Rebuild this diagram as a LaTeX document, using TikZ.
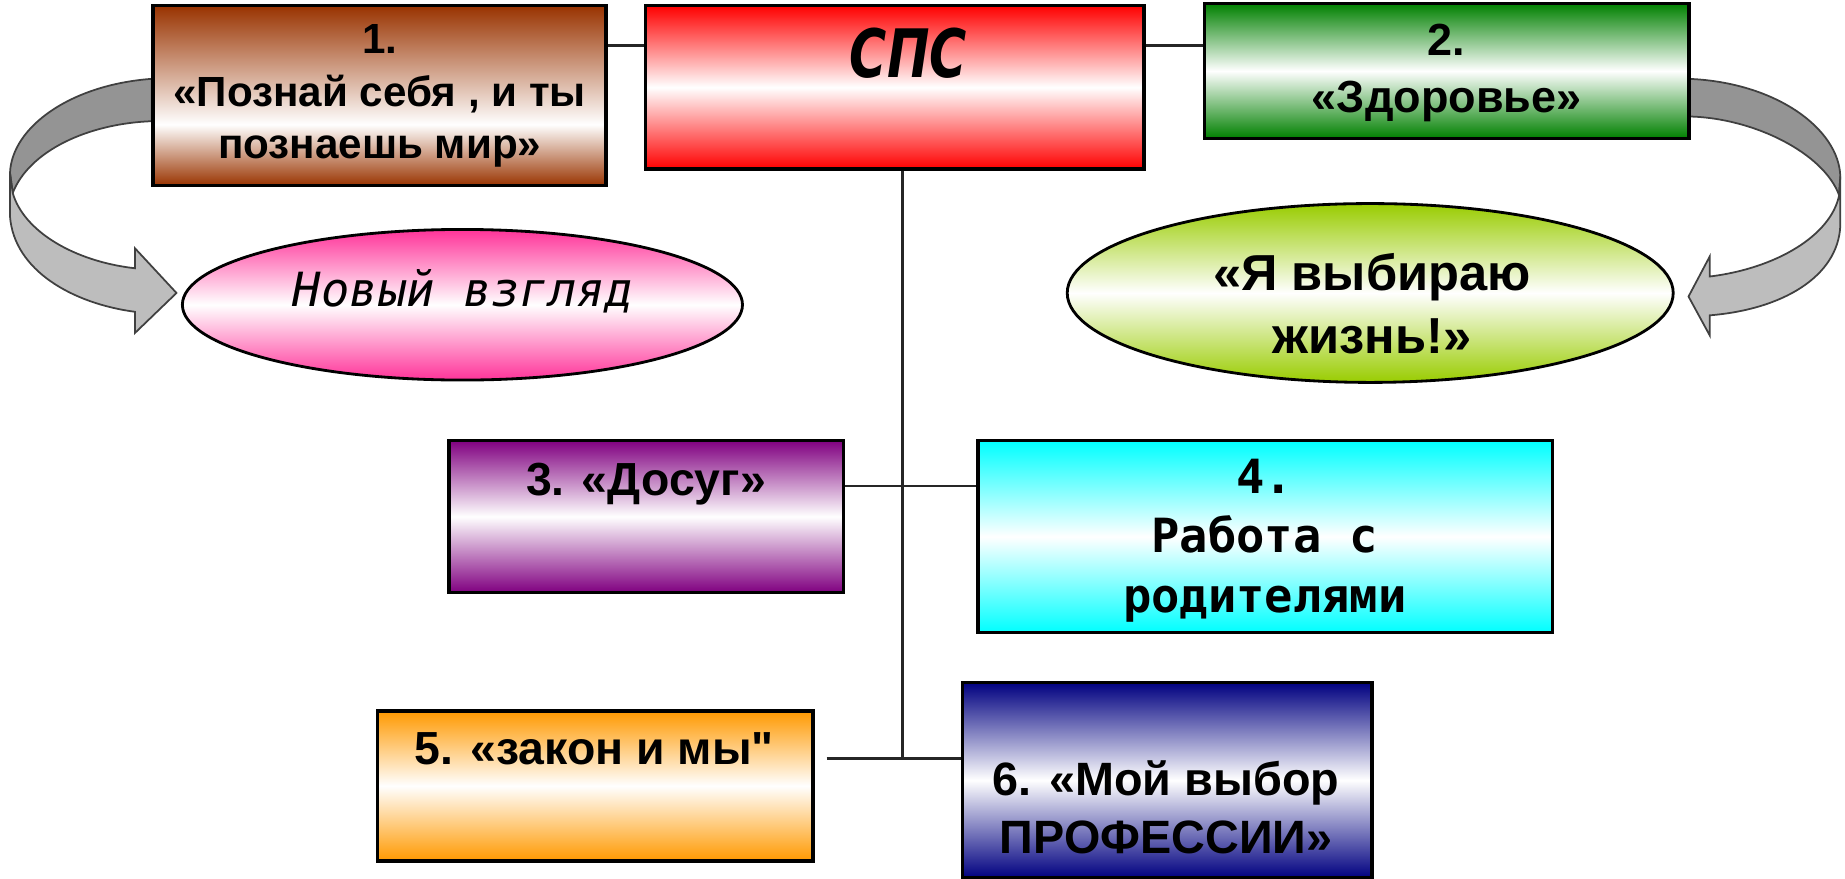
\documentclass[tikz,border=0pt]{standalone}
\usepackage{fontspec}
\setmainfont{Liberation Sans}
\newfontfamily\lawfont{Liberation Sans}
\newfontfamily\monofont{DejaVu Sans Mono}
\newfontfamily\spsfont[FakeStretch=0.76]{DejaVu Sans}
\usetikzlibrary{shapes.geometric}
\definecolor{brown one}{RGB}{153,51,0}
\definecolor{sps red}{RGB}{255,0,0}
\definecolor{health green}{RGB}{0,128,0}
\definecolor{leisure purple}{RGB}{128,0,128}
\definecolor{parent cyan}{RGB}{0,255,255}
\definecolor{law orange}{RGB}{255,153,0}
\definecolor{job navy}{RGB}{0,0,128}
\definecolor{view pink}{RGB}{255,51,153}
\definecolor{life lime}{RGB}{153,204,0}
\pgfdeclareverticalshading{brownglow}{100bp}{color(0bp)=(brown one); color(25bp)=(brown one); color(42bp)=(white); color(75bp)=(brown one); color(100bp)=(brown one)}
\newcommand{\px}{0.011767cm}

\tikzset{
  panel/.style={draw=black, line width=1pt, inner sep=0pt, top color=#1, bottom color=#1, middle color=white},
  oval/.style={ellipse, draw=black, line width=0.8pt, inner sep=0pt, top color=#1, bottom color=#1, middle color=white},
  caption/.style={align=center, inner sep=0pt},
  link/.style={draw=black!85, line width=0.8pt},
  twist back/.style={fill=black!42, draw=black!75, line width=0.5pt},
  twist front/.style={fill=black!26, draw=black!75, line width=0.5pt}
}

\begin{document}
\begin{tikzpicture}[x=\px, y=-\px]
	\useasboundingbox (0,0) rectangle (1568,747);
	% curved arrows
	\draw[twist back] (129,67) .. controls (60,72) and (10,108) .. (8.5,147)
		-- (10.8,164) .. controls (25,128) and (75,105) .. (129,103) -- cycle;
	\draw[twist front] (8.5,147) -- (8.5,184) .. controls (12,230) and (62,258) .. (114.7,265)
		-- (114.7,283) -- (150,249) -- (114.7,211) -- (114.7,228)
		.. controls (62,222) and (20,196) .. (10.8,164) -- cycle;
	\draw[twist back] (1435,67) .. controls (1510,70) and (1563,110) .. (1564,150)
		-- (1563,166) .. controls (1550,130) and (1490,100) .. (1435,99) -- cycle;
	\draw[twist front] (1564,150) -- (1564,192) .. controls (1562,235) and (1515,263) .. (1453,268)
		-- (1453,285) -- (1435,252) -- (1453,218) -- (1453,235)
		.. controls (1510,228) and (1556,200) .. (1563,166) -- cycle;
	% boxes
	\node[panel=brown one, shading=brownglow, minimum width=385*\px, minimum height=153*\px] (b1) at (322.7,81.3) {};
	\node[panel=sps red, minimum width=423.6*\px, minimum height=138.8*\px] (sps) at (760.5,74.2) {};
	\node[panel=health green, minimum width=412*\px, minimum height=114.6*\px] (b2) at (1229.5,60.3) {};
	\node[oval=view pink, minimum width=476*\px, minimum height=128*\px] (e1) at (393,259) {};
	\node[oval=life lime, minimum width=515*\px, minimum height=152*\px] (e2) at (1164.5,249) {};
	\node[panel=leisure purple, minimum width=335*\px, minimum height=129*\px] (b3) at (549.2,439) {};
	\node[panel=parent cyan, minimum width=488.5*\px, minimum height=163.2*\px] (b4) at (1075.2,456.1) {};
	\node[panel=law orange, minimum width=370*\px, minimum height=127.7*\px] (b5) at (506,667.9) {};
	\node[panel=job navy, minimum width=348*\px, minimum height=166*\px] (b6) at (992,663) {};
	% connectors
	\coordinate (j3) at (767,413);
	\coordinate (j5) at (767,644.5);
	\coordinate (e5) at (702.6,644.5);
	\draw[link] ([yshift=-35.7*\px]b1.north east) -- ([yshift=-35.7*\px]sps.north west);
	\draw[link] ([yshift=-35.7*\px]sps.north east) coordinate (r2) -- (r2 -| b2.west);
	\draw[link] (sps.south -| j3) -- (j5);
	\draw[link] (b3.east |- j3) -- (b4.west |- j3);
	\draw[link] (e5) -- (b6.west |- e5);
	% texts
	\node[caption, font=\fontsize{12}{15}\selectfont\bfseries] (t1) at (322.7,81.5) {1.\\«Познай себя , и ты\\познаешь мир»};
	\node[caption, font=\spsfont\fontsize{19}{22}\selectfont\bfseries\itshape] (t0) at (772,44.8) {СПС};
	\node[caption, font=\fontsize{12.8}{16.4}\selectfont\bfseries] (t2) at (1229.5,62) {2.\\«Здоровье»};
	\node[caption, font=\monofont\fontsize{13.4}{16}\selectfont\itshape, anchor=base] (te1) at (393.6,260.5) {Новый взгляд};
	\node[caption, font=\fontsize{14.4}{17.7}\selectfont\bfseries] (te2) at (1166,258) {«Я выбираю\\жизнь!»};
	\node[caption, font=\fontsize{13.2}{16}\selectfont\bfseries, anchor=base] (t3) at (549,421) {3. «Досуг»};
	\node[caption, font=\monofont\fontsize{13.4}{16.9}\selectfont\bfseries] (t4) at (1075,459.5) {4.\\Работа с\\родителями};
	\node[caption, font=\lawfont\fontsize{13.2}{16}\selectfont\bfseries, anchor=base] (t5) at (505,650) {5. «закон и мы"};
	\node[caption, font=\fontsize{13.3}{16.4}\selectfont\bfseries] (t6) at (991,686) {6. «Мой выбор\\ПРОФЕССИИ»};
\end{tikzpicture}
\end{document}
